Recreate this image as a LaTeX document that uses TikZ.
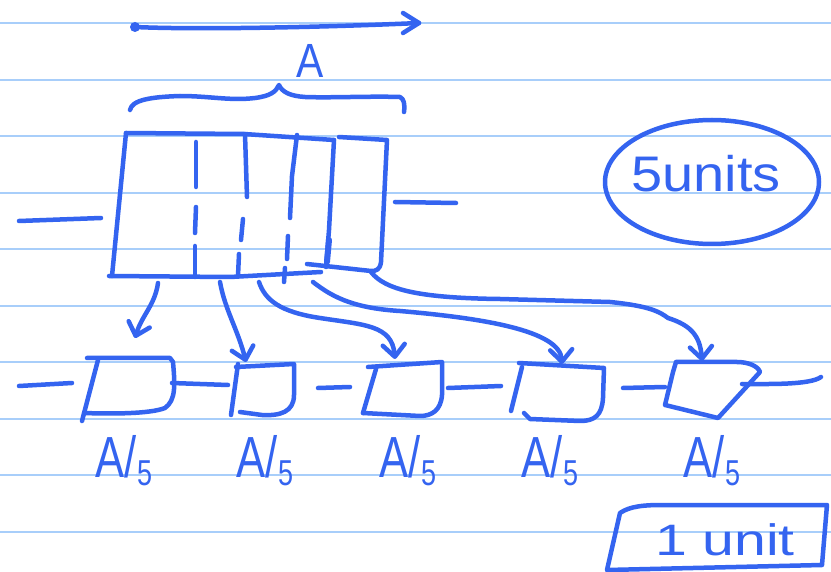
\documentclass[tikz,border=0pt]{standalone}
\usepackage{fontspec}
\setmainfont{Liberation Sans}
\usetikzlibrary{arrows.meta}
\definecolor{ink}{RGB}{52,100,240}
\definecolor{rule}{RGB}{168,206,250}
\begin{document}
\begin{tikzpicture}[x=1pt,y=-1pt,
  pen/.style={draw=ink, line width=4.5pt, line cap=round, line join=round},
  arr/.style={pen, -{Straight Barb[length=12pt,width=22pt,round]}},
  hand/.style={text=ink, inner sep=0pt},
  part/.style={hand, anchor=base, font=\fontsize{58}{58}\selectfont},
  ruled/.style={draw=rule, line width=2pt}]

% paper and ruled lines
\fill[white] (0,0) rectangle (831,572);
\useasboundingbox (0,0) rectangle (831,572);
\foreach \k in {0,...,9}
  \draw[ruled] (0,{23.3+56.5*\k}) -- (831,{23.3+56.5*\k});

% length arrow and label A with brace
\coordinate (lenS) at (135,27);
\coordinate (lenE) at (419,23);
\fill[ink] (lenS) circle (5pt);
\draw[pen] (lenS) .. controls (200,30) and (330,27) .. (lenE);
\draw[pen] (403,13) -- (lenE) -- (403,33);
\node[hand, font=\fontsize{48}{48}\selectfont] (bigA) at (310,61) {\scalebox{0.85}[1]{A}};
\draw[pen] (130,110) .. controls (132,100) and (150,97) .. (180,96)
  .. controls (210,96) and (230,101) .. (255,98)
  .. controls (270,96) and (276,92) .. (279,85)
  .. controls (282,92) and (290,96) .. (305,97)
  .. controls (330,98) and (370,96) .. (400,97)
  .. controls (404,99) and (405,104) .. (404,112);

% big block
\draw[pen] (126,133) -- (244,134) -- (334,140);
\draw[pen] (126,133) -- (112,276);
\draw[pen] (109,276) -- (230,277) -- (321,272);
\draw[pen] (334,140) -- (329,230) -- (326,267);
\draw[draw=ink, line width=6pt, line cap=round] (329,240) -- (327,262);
% small block on the right
\draw[pen] (339,137) -- (387,140) -- (381,262) .. controls (380,270) and (376,271) .. (371,271) -- (307,264);
% inner partitions
\draw[pen] (196,142) -- (196,187);
\draw[pen] (196,207) -- (195,233);
\draw[pen] (195,246) -- (195,277);
\draw[pen] (245,134) -- (247,197);
\draw[pen] (243,219) -- (241,240);
\draw[pen] (239,254) -- (238,276);
\draw[pen] (297,135) -- (292,176) -- (290,218);
\draw[pen] (288,236) -- (287,259);
\draw[pen] (285,268) -- (284,282);
% stubs of the big block
\coordinate (inL) at (19,221);
\coordinate (inR) at (101,218);
\coordinate (outL) at (395,202);
\coordinate (outR) at (456,203);
\draw[pen] (inL) -- (inR);
\draw[pen] (outL) -- (outR);

% 5 units
\draw[pen] (712,182) ellipse [x radius=107, y radius=62];
\node[hand, font=\fontsize{50}{50}\selectfont] (fiveu) at (706,174) {\scalebox{1.12}[1]{5units}};

% small blocks
\draw[pen] (87,358) -- (170,358) -- (173,362) .. controls (175,385) and (176,400) .. (165,408) .. controls (150,414) and (110,414) .. (84,413);
\draw[pen] (98,360) -- (82,421);
\draw[pen] (236,367) -- (294,364) -- (294,395) .. controls (294,412) and (280,416) .. (262,415) -- (240,412);
\draw[pen] (238,364) -- (231,415);
\draw[pen] (368,367) -- (442,362) -- (442,395) .. controls (441,410) and (432,416) .. (420,416) -- (363,413);
\draw[pen] (376,369) -- (363,413);
\draw[pen] (519,363) -- (604,368) -- (603,398) .. controls (602,415) and (595,421) .. (580,421) -- (530,419) -- (524,413);
\draw[pen] (522,367) -- (511,411);
\draw[pen] (676,362) -- (737,362) .. controls (748,362) and (758,366) .. (760,372) -- (718,418) -- (665,405) -- (673,372) -- (676,362);

% links between small blocks
\coordinate (l0a) at (19,386);  \coordinate (l0b) at (72,383);
\coordinate (l1a) at (172,383); \coordinate (l1b) at (228,385);
\coordinate (l2a) at (318,388); \coordinate (l2b) at (350,387);
\coordinate (l3a) at (448,388); \coordinate (l3b) at (501,386);
\coordinate (l4a) at (623,388); \coordinate (l4b) at (665,387);
\coordinate (l5a) at (742,384); \coordinate (l5b) at (821,377);
\draw[pen] (l0a) -- (l0b);
\draw[pen] (l1a) -- (l1b);
\draw[pen] (l2a) -- (l2b);
\draw[pen] (l3a) -- (l3b);
\draw[pen] (l4a) -- (l4b);
\draw[pen] (l5a) .. controls (770,384) and (810,385) .. (l5b);

% arrows from the big block to the small blocks
\coordinate (s1) at (158,283); \coordinate (e1) at (135,338);
\coordinate (s2) at (220,282); \coordinate (e2) at (246,362);
\coordinate (s3) at (259,282); \coordinate (e3) at (395,359);
\coordinate (s4) at (313,282); \coordinate (e4) at (562,364);
\coordinate (s5) at (371,272); \coordinate (e5) at (702,361);
\draw[arr] (s1) .. controls (155,305) and (142,315) .. (e1);
\draw[arr] (s2) .. controls (225,310) and (238,330) .. (e2);
\draw[arr] (s3) .. controls (265,300) and (280,312) .. (320,318)
  .. controls (365,325) and (392,325) .. (e3);
\draw[arr] (s4) .. controls (330,295) and (350,308) .. (400,311)
  .. controls (480,318) and (560,330) .. (e4);
\draw[arr] (s5) .. controls (385,290) and (420,298) .. (500,299) -- (610,302)
  .. controls (650,306) and (660,312) .. (668,318)
  .. controls (690,325) and (700,335) .. (e5);

% part labels
\foreach \x/\n in {124/p1,265/p2,408/p3,550/p4,712/p5}
  \node[part] (\n) at (\x,477) {\scalebox{0.75}[1]{A/\raisebox{-8pt}{\fontsize{36}{36}\selectfont 5}}};

% 1 unit
\draw[pen] (620,513) .. controls (630,506) and (645,505) .. (663,505) -- (827,505) -- (822,565) -- (607,570) -- cycle;
\node[hand, font=\fontsize{44}{44}\selectfont] (oneu) at (725,540) {\scalebox{1.3}[1]{1 unit}};
\end{tikzpicture}
\end{document}
